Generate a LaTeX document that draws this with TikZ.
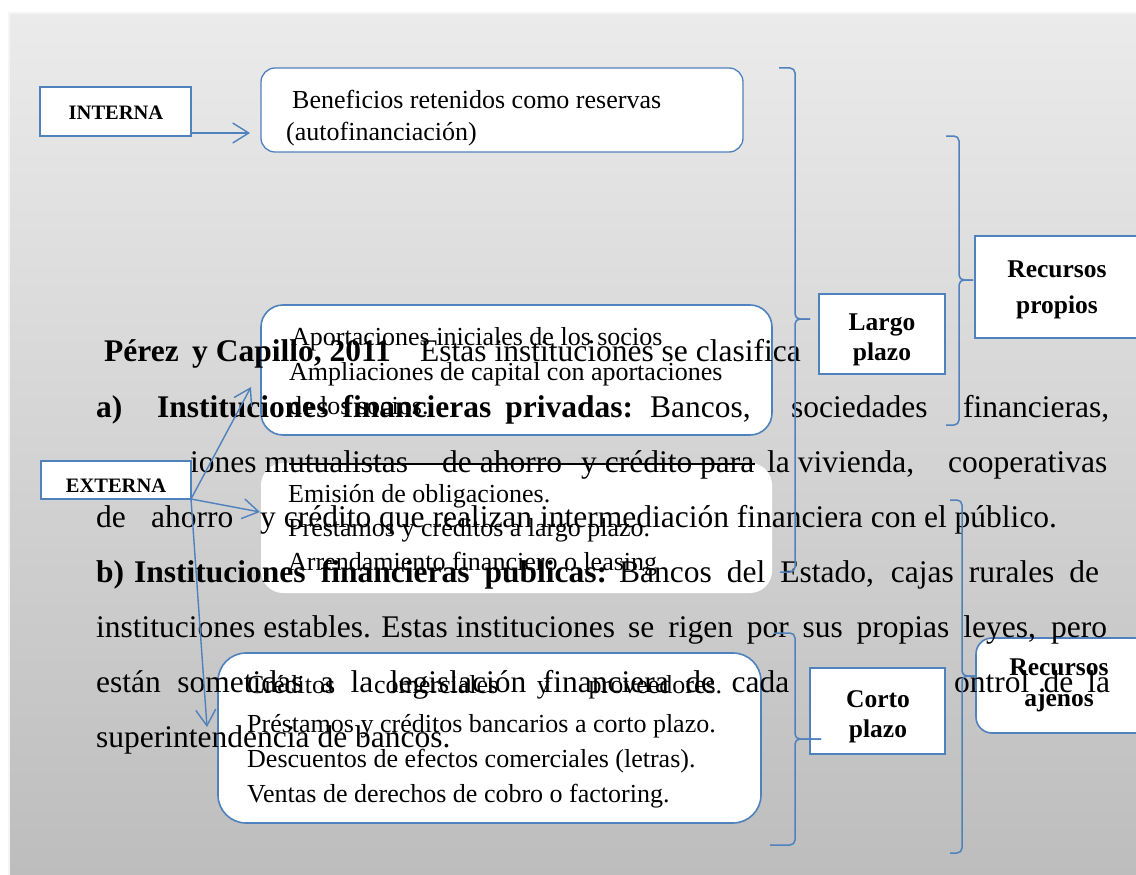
\documentclass[tikz,border=0pt]{standalone}
\usepackage{fontspec}
\setmainfont{Liberation Serif}
\usetikzlibrary{arrows.meta}
\definecolor{bl}{RGB}{79,129,189}
\definecolor{bgtop}{RGB}{235,235,235}
\definecolor{bgbot}{RGB}{189,189,189}
\begin{document}
\begin{tikzpicture}[x=1pt,y=-1pt,
  bx/.style={draw=bl,line width=1.6pt,fill=white,inner sep=0pt,outer sep=0pt,anchor=north west},
  rbx/.style={bx,rounded corners=#1},
  boxt/.style={inner sep=0pt,anchor=base west,font=\fontsize{26}{30}\selectfont},
  part/.style={inner sep=0pt,anchor=base west,font=\fontsize{31.5}{36}\selectfont},
  lab/.style={inner sep=0pt,anchor=base,font=\fontsize{25.5}{30}\selectfont\bfseries},
  slab/.style={inner sep=0pt,anchor=base,font=\fontsize{20.5}{24}\selectfont\bfseries},
  arr/.style={draw=bl,line width=1.4pt,-{Straight Barb[length=16pt,width=20pt]}},
  brk/.style={draw=bl,line width=1.5pt,rounded corners=5pt}]
\useasboundingbox (0,0) rectangle (1136,875);
\fill[white] (0,0) rectangle (1136,875);
\shade[top color=bgtop,bottom color=bgbot] (10,13) rectangle (1136,875);
\draw[white!92!gray,line width=1.5pt] (9,875) -- (9,13) -- (1136,13);

% boxes under the text
\node[rbx=14pt,line width=1.3pt,minimum width=482pt,minimum height=84pt] (b1) at (261,68) {};
\node[rbx=22pt,minimum width=511pt,minimum height=130pt] (b2) at (261,305) {};
\node[rbx=22pt,draw=none,minimum width=511pt,minimum height=130pt] (b3) at (261,463) {};
\node[rbx=28pt,minimum width=543pt,minimum height=170pt] (b4) at (218,653) {};
\node[rbx=16pt,minimum width=175pt,minimum height=95pt] (ra) at (976,638) {};
\node[bx,minimum width=175pt,minimum height=102pt] (rp) at (975,236) {};

% box texts
\node[boxt] (b1a) at (292,108) {Beneficios retenidos como reservas};
\node[boxt] (b1b) at (286,140) {(autofinanciación)};
\node[boxt] (b2a) at (291,345) {Aportaciones iniciales de los socios};
\node[boxt] (b2b) at (289,380) {Ampliaciones de capital con aportaciones};
\node[boxt] (b2c) at (289,414) {de los socios.};
\node[boxt] (b3a) at (288,502) {Emisión de obligaciones.};
\node[boxt] (b3b) at (288,536) {Préstamos y créditos a largo plazo.};
\node[boxt] (b3c) at (288,570) {Arrendamiento financiero o leasing};
\node[boxt] (b4a) at (247,693) {\makebox[475pt][s]{Créditos comerciales y proveedores.}};
\node[boxt] (b4b) at (247,732) {Préstamos y créditos bancarios a corto plazo.};
\node[boxt] (b4c) at (247,767) {Descuentos de efectos comerciales (letras).};
\node[boxt] (b4d) at (247,802) {Ventas de derechos de cobro o factoring.};
\node[lab] (rpa) at (1057,277) {Recursos};
\node[lab] (rpb) at (1057,313) {propios};
\node[lab] (raa) at (1059,675) {Recursos};
\node[lab] (rab) at (1059,706) {ajenos};

% paragraph
\node[part] (p1a) at (104,361) {\bfseries Pérez};
\node[part] (p1b) at (192,361) {\bfseries y Capillo, 2011};
\node[part] (p1c) at (420,361) {Estas instituciones se clasifica};
\node[part] (p2a) at (96,417) {\bfseries a)};
\node[part] (p2b) at (157,417) {\makebox[476pt][s]{\bfseries Instituciones financieras privadas:}};
\node[part] (p2c) at (650,417) {Bancos,};
\node[part] (p2d) at (791,417) {sociedades};
\node[part] (p2e) at (963,417) {financieras,};
\node[part] (p3a) at (190,472) {iones mutualistas};
\node[part] (p3b) at (442,472) {de ahorro};
\node[part] (p3c) at (581,472) {y crédito para};
\node[part] (p3d) at (767,472) {la vivienda,};
\node[part] (p3e) at (948,472) {cooperativas};
\node[part] (p4a) at (96,527) {de};
\node[part] (p4b) at (151,527) {ahorro};
\node[part] (p4c) at (260,527) {y crédito que realizan intermediación financiera con el público.};
\node[part] (p5a) at (96,582) {\bfseries b)};
\node[part] (p5b) at (134,582) {\makebox[473pt][s]{\bfseries Instituciones financieras publicas:}};
\node[part] (p5c) at (619,582) {\makebox[480pt][s]{Bancos del Estado, cajas rurales de}};
\node[part] (p6a) at (96,637) {instituciones estables. Estas instituciones};
\node[part] (p6b) at (628,637) {\makebox[479pt][s]{se rigen por sus propias leyes, pero}};
\node[part] (p7a) at (96,692) {\makebox[693pt][s]{están sometidas a la legislación financiera de cada}};
\node[part] (p7b) at (954,692) {\makebox[156pt][s]{ontrol de la}};
\node[part] (p8a) at (96,747) {superintendencia de bancos.};

% dark top edge of the third box
\draw[black,line width=1.8pt] (289,464) -- (755,464);

% boxes over the text
\node[bx,line width=2.2pt,minimum width=151pt,minimum height=49pt] (int) at (40,87) {};
\node[slab] (intt) at (116,119) {INTERNA};
\node[bx,line width=2pt,minimum width=150pt,minimum height=38pt] (ext) at (41,461) {};
\node[slab] (extt) at (116,492) {EXTERNA};
\node[bx,minimum width=126pt,minimum height=80pt] (lp) at (819,294) {};
\node[lab] (lpa) at (882,330) {Largo};
\node[lab] (lpb) at (882,360) {plazo};
\node[bx,minimum width=135pt,minimum height=86pt] (cp) at (810,668) {};
\node[lab] (cpa) at (878,707) {Corto};
\node[lab] (cpb) at (878,737) {plazo};

% arrows
\coordinate (t1) at (250,133);
\coordinate (t2) at (251,387);
\coordinate (t3) at (260,512);
\coordinate (t4) at (207,727);
\draw[arr] (int.east |- t1) -- (t1);
\draw[arr] (ext.south east) -- (t2);
\draw[arr] (ext.south east) -- (t3);
\draw[arr] (ext.south east) -- (t4);

% brackets
\draw[brk] (779,68) -- (795,68) -- (795,319) -- (810,319);
\draw[brk] (810,319) -- (795,319) -- (795,572) -- (780,572);
\draw[brk] (946,136) -- (959,136) -- (959,280) -- (973,280);
\draw[brk] (973,280) -- (959,280) -- (959,425) -- (946,425);
\draw[brk] (774,633) -- (795,633) -- (795,739) -- (821,739);
\draw[brk] (821,739) -- (795,739) -- (795,845) -- (770,845);
\draw[brk] (950,500) -- (962,500) -- (962,676) -- (976,676);
\draw[brk] (976,676) -- (962,676) -- (962,853) -- (950,853);
\end{tikzpicture}
\end{document}
